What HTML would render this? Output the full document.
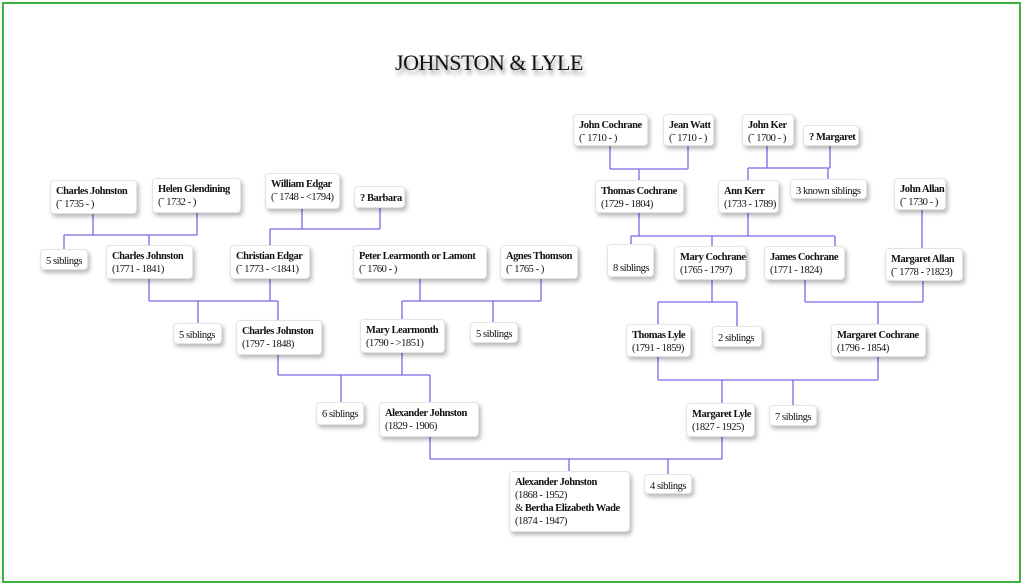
<!DOCTYPE html>
<html><head><meta charset="utf-8"><style>
html,body{margin:0;padding:0;background:#fff;}
#c{position:relative;width:1023px;height:585px;overflow:hidden;font-family:"Liberation Serif",serif;}
.frame{position:absolute;left:2px;top:2px;width:1015px;height:577px;border:2px solid #3cb33c;}
.b{position:absolute;background:#fff;border:1px solid #e4e4e4;border-radius:4px;box-shadow:2px 3px 4px rgba(0,0,0,0.28);font-size:10.5px;line-height:13px;padding:4px 0 0 5px;box-sizing:border-box;color:#111;letter-spacing:-0.45px;white-space:nowrap;}
.b b{font-weight:bold;}
.s{padding-top:5px;}
h1{position:absolute;left:0;width:978px;text-align:center;top:50px;margin:0;font-family:"Liberation Serif",serif;font-weight:normal;font-size:22px;letter-spacing:-0.5px;color:#111;text-shadow:2px 4px 4px rgba(0,0,0,0.45);}
svg{position:absolute;left:0;top:0;}
</style></head><body><div id="c">
<div class="frame"></div>
<h1>JOHNSTON &amp; LYLE</h1>
<svg width="1023" height="585"><g stroke="#7a68e6" stroke-width="1.3" fill="none">
<path d="M93 213V235M197 213V235M64 235H197M64 235V249M149 235V245"/>
<path d="M302 209V229M380 208V229M270 229H380M270 229V245"/>
<path d="M149 279V301M270 279V301M149 301H278M198 301V323M278 301V320"/>
<path d="M420 279V301M541 279V301M402 301H541M402 301V319M493 301V322"/>
<path d="M610 146V169M688 146V169M610 169H688M639 169V180"/>
<path d="M767 146V168M830 146V168M748 168H830M748 168V180M828 168V179"/>
<path d="M639 213V236M748 213V236M631 236H835M631 236V244M712 236V246M835 236V246"/>
<path d="M922 210V248"/>
<path d="M712 280V302M658 302H737M658 302V324M737 302V326"/>
<path d="M805 280V302M923 281V302M805 302H923M878 302V324"/>
<path d="M658 357V380M878 357V380M658 380H878M722 380V403M793 380V405"/>
<path d="M278 355V375M402 353V375M278 375H430M341 375V402M430 375V402"/>
<path d="M430 437V459M722 437V459M430 459H722M569 459V471M668 459V474"/>
</g></svg>
<div class="b" style="left:50px;top:180px;width:87px;height:34px"><b>Charles Johnston</b><br>(˜ 1735 - )</div>
<div class="b" style="left:152px;top:178px;width:89px;height:35px"><b>Helen Glendining</b><br>(˜ 1732 - )</div>
<div class="b" style="left:265px;top:173px;width:75px;height:36px"><b>William Edgar</b><br>(˜ 1748 - &lt;1794)</div>
<div class="b s" style="left:354px;top:186px;width:51px;height:22px"><b>? Barbara</b></div>
<div class="b s" style="left:40px;top:249px;width:48px;height:21px">5 siblings</div>
<div class="b" style="left:106px;top:245px;width:87px;height:34px"><b>Charles Johnston</b><br>(1771 - 1841)</div>
<div class="b" style="left:230px;top:245px;width:80px;height:34px"><b>Christian Edgar</b><br>(˜ 1773 - &lt;1841)</div>
<div class="b" style="left:353px;top:245px;width:134px;height:34px"><b>Peter Learmonth or Lamont</b><br>(˜ 1760 - )</div>
<div class="b" style="left:500px;top:245px;width:78px;height:34px"><b>Agnes Thomson</b><br>(˜ 1765 - )</div>
<div class="b s" style="left:173px;top:323px;width:49px;height:21px">5 siblings</div>
<div class="b" style="left:236px;top:320px;width:86px;height:35px"><b>Charles Johnston</b><br>(1797 - 1848)</div>
<div class="b" style="left:360px;top:319px;width:85px;height:34px"><b>Mary Learmonth</b><br>(1790 - &gt;1851)</div>
<div class="b s" style="left:470px;top:322px;width:48px;height:21px">5 siblings</div>
<div class="b" style="left:573px;top:114px;width:75px;height:32px"><b>John Cochrane</b><br>(˜ 1710 - )</div>
<div class="b" style="left:663px;top:114px;width:51px;height:32px"><b>Jean Watt</b><br>(˜ 1710 - )</div>
<div class="b" style="left:742px;top:114px;width:52px;height:32px"><b>John Ker</b><br>(˜ 1700 - )</div>
<div class="b s" style="left:803px;top:125px;width:56px;height:21px"><b>? Margaret</b></div>
<div class="b" style="left:595px;top:180px;width:89px;height:33px"><b>Thomas Cochrane</b><br>(1729 - 1804)</div>
<div class="b" style="left:718px;top:180px;width:61px;height:33px"><b>Ann Kerr</b><br>(1733 - 1789)</div>
<div class="b s" style="left:790px;top:179px;width:77px;height:20px">3 known siblings</div>
<div class="b" style="left:894px;top:178px;width:52px;height:32px"><b>John Allan</b><br>(˜ 1730 - )</div>
<div class="b" style="left:607px;top:244px;width:47px;height:33px;padding-top:17px">8 siblings</div>
<div class="b" style="left:674px;top:246px;width:72px;height:34px"><b>Mary Cochrane</b><br>(1765 - 1797)</div>
<div class="b" style="left:764px;top:246px;width:81px;height:34px"><b>James Cochrane</b><br>(1771 - 1824)</div>
<div class="b" style="left:885px;top:248px;width:78px;height:33px"><b>Margaret Allan</b><br>(˜ 1778 - ?1823)</div>
<div class="b" style="left:626px;top:324px;width:65px;height:33px"><b>Thomas Lyle</b><br>(1791 - 1859)</div>
<div class="b s" style="left:712px;top:326px;width:50px;height:21px">2 siblings</div>
<div class="b" style="left:831px;top:324px;width:95px;height:33px"><b>Margaret Cochrane</b><br>(1796 - 1854)</div>
<div class="b s" style="left:316px;top:402px;width:48px;height:23px">6 siblings</div>
<div class="b" style="left:379px;top:402px;width:100px;height:35px"><b>Alexander Johnston</b><br>(1829 - 1906)</div>
<div class="b" style="left:686px;top:403px;width:69px;height:34px"><b>Margaret Lyle</b><br>(1827 - 1925)</div>
<div class="b s" style="left:769px;top:405px;width:48px;height:21px">7 siblings</div>
<div class="b" style="left:509px;top:471px;width:121px;height:61px"><b>Alexander Johnston</b><br>(1868 - 1952)<br>&amp; <b>Bertha Elizabeth Wade</b><br>(1874 - 1947)</div>
<div class="b s" style="left:644px;top:474px;width:48px;height:20px">4 siblings</div>
</div></body></html>
